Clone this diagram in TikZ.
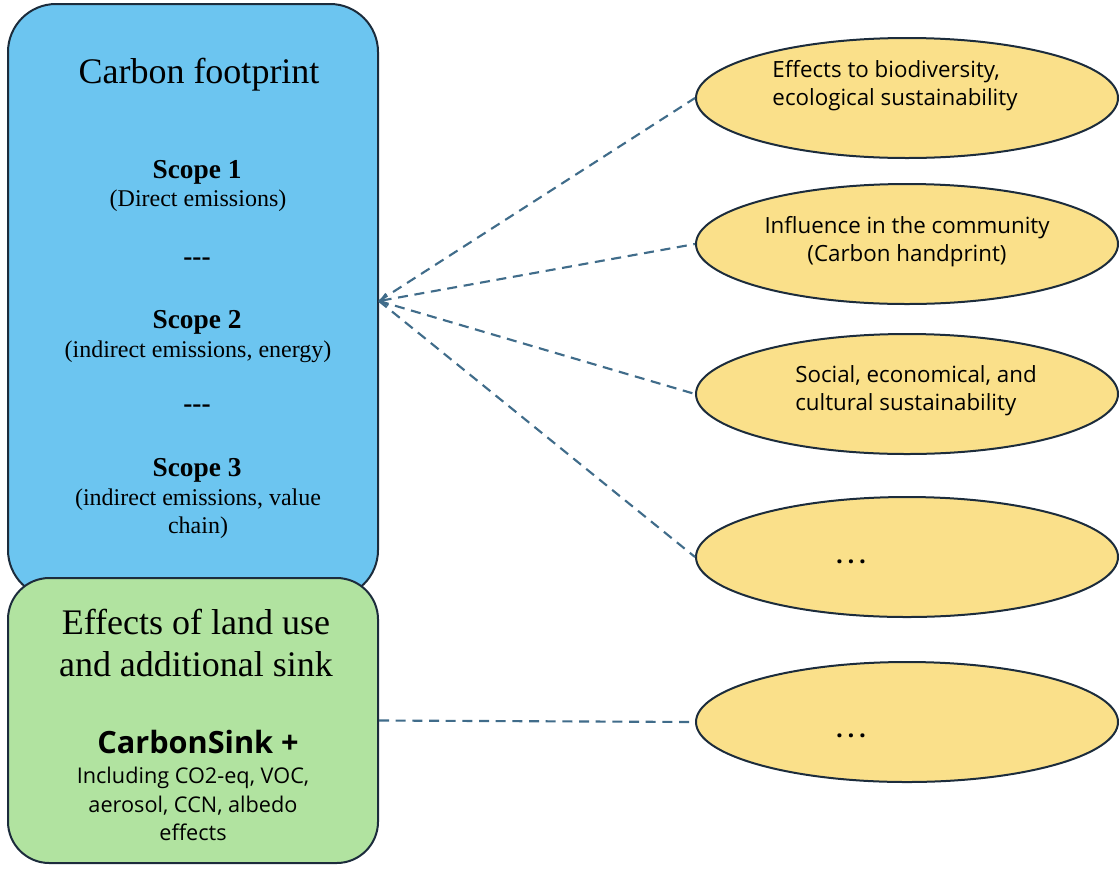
\documentclass[tikz,border=0pt]{standalone}
\usepackage{fontspec}
\setmainfont{Liberation Serif}
\setsansfont{Open Sans}
\usepackage{xcolor}
\usetikzlibrary{shapes.geometric, arrows.meta, positioning}
\definecolor{footprint}{RGB}{108,197,240}
\definecolor{landsink}{RGB}{177,227,160}
\definecolor{effect}{RGB}{250,224,138}
\definecolor{outline}{RGB}{28,44,60}
\definecolor{linkcol}{RGB}{64,108,138}

\begin{document}
\begin{tikzpicture}[x=0.75pt, y=-0.75pt]
    % Define styles
    \tikzstyle{footbox} = [rectangle, rounded corners=36pt, minimum width=277.5pt, minimum height=445.5pt, draw=outline, line width=1.5pt, fill=footprint]
    \tikzstyle{sinkbox} = [rectangle, rounded corners=31pt, minimum width=277.5pt, minimum height=213.75pt, draw=outline, line width=1.5pt, fill=landsink]
    \tikzstyle{effectnode} = [ellipse, minimum width=316.5pt, minimum height=90pt, draw=outline, line width=1.5pt, fill=effect]
    \tikzstyle{effecttext} = [font=\sffamily\fontsize{16.75}{21}\selectfont, align=left]
    \tikzstyle{dots} = [font=\sffamily\bfseries\fontsize{18}{21}\selectfont]
    \tikzstyle{bigtitle} = [font=\fontsize{27}{31.5}\selectfont, align=center]
    \tikzstyle{scopehead} = [font=\bfseries\fontsize{20.5}{22}\selectfont]
    \tikzstyle{scopenote} = [font=\fontsize{18}{21}\selectfont, align=center]
    \tikzstyle{link} = [dashed, dash pattern=on 7.5pt off 5pt, line width=1.6pt, draw=linkcol]
    \tikzstyle{arrow} = [link, <-, >={Straight Barb[length=5pt, width=9pt]}]

    \useasboundingbox (0,0) rectangle (1119,872);

    % Boxes
    \node (footprint) [footbox] at (193,301) {};
    \node (sink) [sinkbox] at (193,720.5) {};

    % Carbon footprint text
    \node (fptitle) [bigtitle] at (199,75) {Carbon footprint};
    \node (scope1) [scopehead] at (197,172) {Scope 1};
    \node (scope1note) [scopenote] at (198,201) {(Direct emissions)};
    \node (sep1) [scopehead] at (197,262) {{-}{-}{-}};
    \node (scope2) [scopehead] at (197,322) {Scope 2};
    \node (scope2note) [scopenote] at (198,352) {(indirect emissions, energy)};
    \node (sep2) [scopehead] at (197,409) {{-}{-}{-}};
    \node (scope3) [scopehead] at (197,470) {Scope 3};
    \node (scope3note) [scopenote] at (198,514) {(indirect emissions, value\\chain)};

    % Land use text
    \node (landtitle) [bigtitle] at (196,643) {Effects of land use\\and additional sink};
    \node (sinkname) [font=\sffamily\bfseries\fontsize{23}{25}\selectfont] at (198,742) {CarbonSink +};
    \node (sinknote) [font=\sffamily\fontsize{16.25}{21.4}\selectfont, align=center] at (193,804) {Including CO2-eq, VOC,\\aerosol, CCN, albedo\\effects};

    % Effects
    \node (biodiv) [effectnode, label={[effecttext, xshift=-9pt, yshift=9pt]center:Effects to biodiversity,\\ecological sustainability}] at (907,98) {};
    \node (community) [effectnode, label={[effecttext, align=center, yshift=1.5pt]center:Influence in the community\\(Carbon handprint)}] at (907,244) {};
    \node (social) [effectnode, label={[effecttext, xshift=6.75pt, yshift=2.25pt]center:Social, economical, and\\cultural sustainability}] at (907,394) {};
    \node (more) [effectnode, label={[dots, xshift=-42pt, yshift=-3.75pt]center:.\hspace{3.5pt}.\hspace{3.5pt}.}] at (907,557) {};
    \node (moresink) [effectnode, label={[dots, xshift=-42pt, yshift=-10.5pt]center:.\hspace{3.5pt}.\hspace{3.5pt}.}] at (907,722) {};

    % Links
    \draw [link] (footprint.east) -- (biodiv.west);
    \draw [arrow] (footprint.east) -- (community.west);
    \draw [link] (footprint.east) -- (social.west);
    \draw [link] (footprint.east) -- (more.west);
    \draw [link] (sink.east) -- (moresink.west);
\end{tikzpicture}
\end{document}
